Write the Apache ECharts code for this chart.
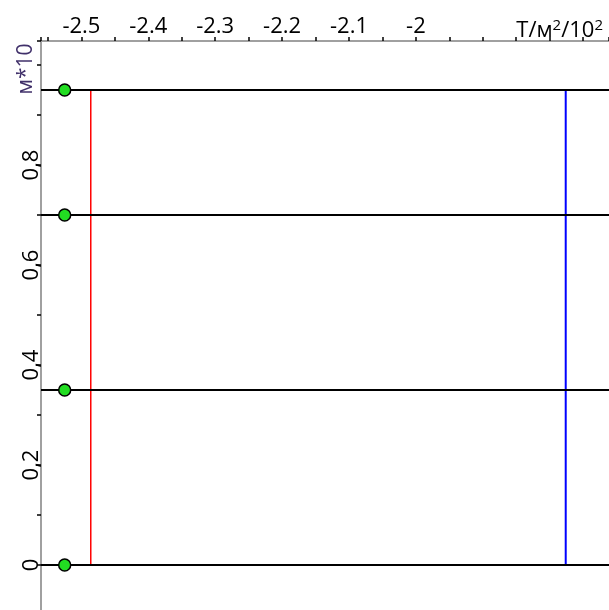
<!DOCTYPE html>
<html lang="ru">
<head>
    <meta charset="UTF-8">
    <title>chart</title>
    <script src="https://cdn.jsdelivr.net/npm/echarts@6.0.0/dist/echarts.min.js"></script>
    <style>
        html, body { margin: 0; padding: 0; background: #fff; }
    </style>
</head>
<body>
<div id="main" style="width: 609px;height:610px;"></div>
<script type="text/javascript">
    // axis extents
    var xMin = -2.5604, xMax = -1.7113;
    var yMin = -0.1, yMax = 1.048;

    // tick labels
    var xTickValues = [-2.5, -2.4, -2.3, -2.2, -2.1, -2.0];
    var xTickLabels = ['-2.5', '-2.4', '-2.3', '-2.2', '-2.1', '-2'];
    var yTickValues = [0, 0.2, 0.4, 0.6, 0.8];
    var yTickLabels = ['0', '0,2', '0,4', '0,6', '0,8'];

    // data
    var levels = [0, 0.35, 0.7, 0.95];
    var dotX = -2.525;
    var redX = -2.486;
    var blueX = -1.776;

    function labelFor(values, labels, v) {
        for (var i = 0; i < values.length; i++) {
            if (Math.abs(values[i] - v) < 1e-6) return labels[i];
        }
        return '';
    }

    var font = 'Open Sans';
    var lvlTop = Math.max.apply(null, levels), lvlBottom = Math.min.apply(null, levels);

    var myChart = echarts.init(document.getElementById('main'));
    myChart.setOption({
        animation: false,
        backgroundColor: '#fff',
        textStyle: { fontFamily: font },
        grid: { left: 41, top: 41, width: 568, height: 574, outerBoundsMode: 'none' },
        xAxis: {
            type: 'value',
            position: 'top',
            min: xMin,
            max: xMax,
            splitNumber: 17,
            splitLine: { show: false },
            axisLine: { onZero: false, lineStyle: { color: '#a0a0a0', width: 2 } },
            axisTick: { length: 4, lineStyle: { color: '#000', width: 1.5 } },
            axisLabel: {
                margin: 3,
                color: '#000',
                fontSize: 22,
                fontFamily: font,
                formatter: function (v) { return labelFor(xTickValues, xTickLabels, v); }
            },
            name: 'T/м{s|2}/10{s|2}',
            nameLocation: 'end',
            nameGap: -6,
            nameTextStyle: {
                color: '#000',
                fontSize: 22,
                fontFamily: font,
                align: 'right',
                verticalAlign: 'bottom',
                padding: [0, 0, -2, 0],
                rich: { s: { fontSize: 15, fontFamily: font, color: '#000', verticalAlign: 'top', padding: [0, 0, 10, 0] } }
            }
        },
        yAxis: {
            type: 'value',
            min: yMin,
            max: yMax,
            interval: 0.1,
            splitLine: { show: false },
            axisLine: { onZero: false, lineStyle: { color: '#a0a0a0', width: 2 } },
            axisTick: { length: 4, lineStyle: { color: '#000', width: 1.5 } },
            axisLabel: {
                rotate: 90,
                margin: -2,
                color: '#000',
                fontSize: 22,
                fontFamily: font,
                formatter: function (v) { return labelFor(yTickValues, yTickLabels, v); }
            },
            name: 'м*10',
            nameLocation: 'end',
            nameGap: -28,
            nameRotate: 90,
            nameTextStyle: {
                color: '#40306a',
                fontSize: 21,
                fontFamily: font,
                align: 'center',
                verticalAlign: 'bottom',
                padding: [0, 0, 4, 0]
            }
        },
        series: [
            {
                type: 'line',
                data: [],
                markLine: {
                    silent: true,
                    symbol: 'none',
                    label: { show: false },
                    lineStyle: { color: '#000', width: 2, type: 'solid' },
                    data: levels.map(function (v) { return { yAxis: v }; })
                }
            },
            {
                type: 'line',
                data: [[redX, lvlBottom], [redX, lvlTop]],
                showSymbol: false,
                lineStyle: { color: '#ff0000', width: 1.5 },
                z: 3
            },
            {
                type: 'line',
                data: [[blueX, lvlBottom], [blueX, lvlTop]],
                showSymbol: false,
                lineStyle: { color: '#0000ff', width: 2 },
                z: 3
            },
            {
                type: 'scatter',
                data: levels.map(function (v) { return [dotX, v]; }),
                symbolSize: 12,
                itemStyle: { color: '#22dd22', borderColor: '#000', borderWidth: 1.5, opacity: 1 },
                z: 5
            }
        ]
    });
</script>
</body>
</html>
